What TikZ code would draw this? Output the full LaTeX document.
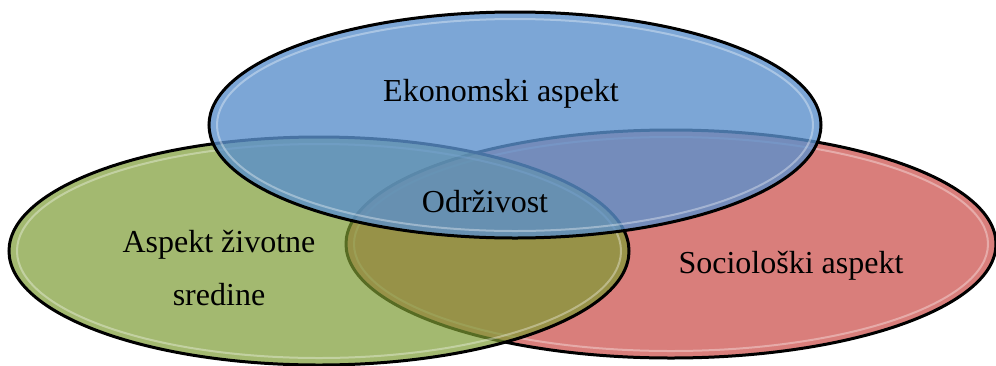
\documentclass[tikz,border=0pt]{standalone}
\usepackage{fontspec}
\setmainfont{Liberation Serif}
\usetikzlibrary{shapes.geometric}
\definecolor{redfill}{RGB}{217,126,123}
\definecolor{greenfill}{RGB}{124,155,51}
\definecolor{bluefill}{RGB}{91,144,204}
\tikzset{
  venn/.style={ellipse, draw=black, line width=3pt, inner sep=0pt, outer sep=0pt},
  rim/.style={ellipse, draw=white, draw opacity=0.35, line width=2pt, inner sep=0pt},
  lbl/.style={anchor=base, font=\fontsize{32}{36}\selectfont, text=black, inner sep=0pt}
}
\begin{document}
\begin{tikzpicture}[x=1pt,y=-1pt]
\useasboundingbox (0,0) rectangle (996,365);
% red (sociological)
\node[venn, fill=redfill, minimum width=650pt, minimum height=228pt] (red) at (671,244) {};
\node[rim, minimum width=634pt, minimum height=214pt] (redrim) at (671,244) {};
% green (environment)
\node[venn, fill=greenfill, fill opacity=0.7, draw opacity=1, minimum width=620pt, minimum height=228pt] (green) at (319,251) {};
\node[rim, minimum width=604pt, minimum height=214pt] (greenrim) at (319,251) {};
% blue (economic)
\node[venn, fill=bluefill, fill opacity=0.8, minimum width=612pt, minimum height=226pt] (blue) at (515,125) {};
\node[rim, minimum width=596pt, minimum height=212pt] (bluerim) at (515,125) {};
% labels
\node[lbl] (eko) at (501,101) {Ekonomski aspekt};
\node[lbl] (odr) at (485,212) {Održivost};
\node[lbl] (asp1) at (219,252) {Aspekt životne};
\node[lbl] (asp2) at (219,305) {sredine};
\node[lbl] (soc) at (791,273) {Sociološki aspekt};
\end{tikzpicture}
\end{document}
